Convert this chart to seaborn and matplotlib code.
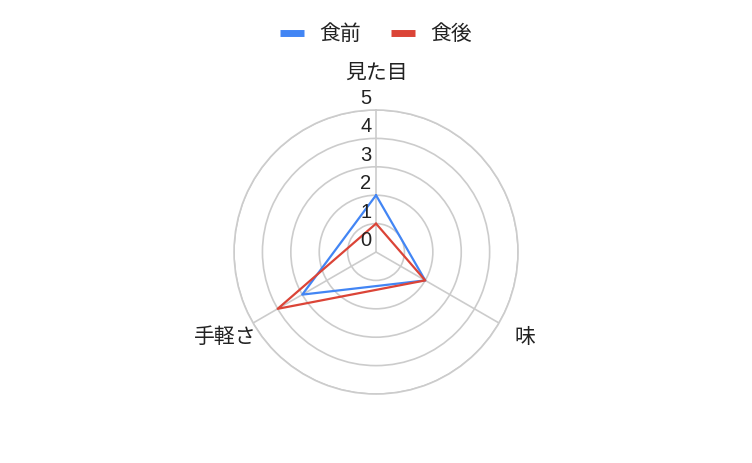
import numpy as np
import pandas as pd
import seaborn as sns
import matplotlib
matplotlib.use('Agg')
import matplotlib.pyplot as plt

# data
categories = ['見た目', '味', '手軽さ']
before = [2, 2, 3]   # 食前
after = [1, 2, 4]    # 食後
series_names = ['食前', '食後']
r_ticks = [0, 1, 2, 3, 4, 5]

BLUE = '#4285F4'
RED = '#DB4437'
GRID = '#cccccc'

sns.set_theme(style='white')
plt.rcParams['font.family'] = ['Noto Sans CJK JP', 'DejaVu Sans']

fig = plt.figure(figsize=(7.52, 4.63), dpi=100)
ax = fig.add_axes([0.3112, 0.149, 0.3777, 0.6134], projection='polar')
ax.set_theta_zero_location('N')
ax.set_theta_direction(-1)

angles = np.deg2rad(np.arange(len(categories)) * 360 / len(categories))
rows = []
for name, vals in zip(series_names, [before, after]):
    for a, v in zip(list(angles) + [angles[0]], vals + [vals[0]]):
        rows.append({'theta': a, 'r': v, 'series': name})
df = pd.DataFrame(rows)

sns.lineplot(data=df, x='theta', y='r', hue='series', palette=[BLUE, RED],
             sort=False, estimator=None, linewidth=1.6, ax=ax, legend=True)

ax.set_ylim(0, 5)
ax.set_rgrids(r_ticks[1:], labels=[''] * 5)
ax.set_thetagrids(np.rad2deg(angles), labels=[''] * len(categories))
ax.grid(True, color=GRID, linewidth=1.2)
ax.spines['polar'].set_color(GRID)
ax.spines['polar'].set_linewidth(1.2)
ax.set_xlabel('')
ax.set_ylabel('')
ax.set_facecolor('white')

# radial value labels along the top spoke
for t in r_ticks:
    ax.annotate(str(t), xy=(0, t), xytext=(-7.2, 8.3), textcoords='offset points',
                ha='center', va='center', fontsize=14.5, color='#222222',
                family=['Liberation Sans', 'DejaVu Sans'], annotation_clip=False)

# category labels
offsets = [((0, 26.6), 'center'), ((11.5, -10), 'left'), ((2.8, -10), 'right')]
for a, cat, (off, ha) in zip(angles, categories, offsets):
    ax.annotate(cat, xy=(a, 5), xytext=off, textcoords='offset points',
                ha=ha, va='center', fontsize=15, color='#222222',
                annotation_clip=False)

handles, labels = ax.get_legend_handles_labels()
ax.get_legend().remove()
leg = fig.legend(handles, labels, loc='center', bbox_to_anchor=(0.5, 1 - 34 / 463),
                 ncol=2, frameon=False, fontsize=15, handlelength=1.15,
                 handletextpad=0.72, columnspacing=1.44)
for line in leg.get_lines():
    line.set_linewidth(5)
    line.set_solid_capstyle('butt')
for txt in leg.get_texts():
    txt.set_color('#222222')

fig.savefig('out.png', dpi=100)
